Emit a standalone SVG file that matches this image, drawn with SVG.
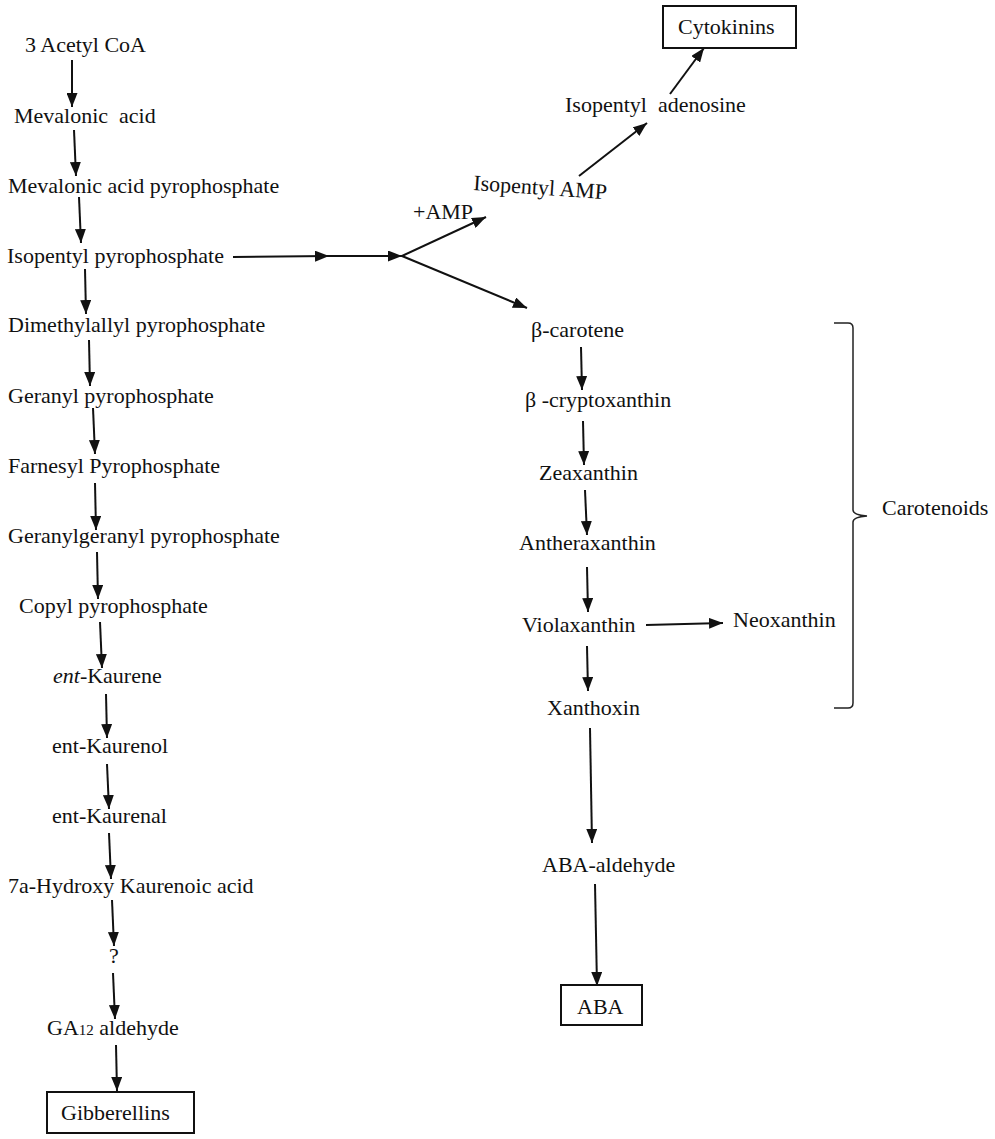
<svg xmlns="http://www.w3.org/2000/svg" width="995" height="1139" viewBox="0 0 995 1139">
<style>
text{font-family:"Liberation Serif","Times New Roman",serif;font-size:22px;fill:#111}
.c line,.c polyline{stroke:#111;stroke-width:2;fill:none;marker-end:url(#ah)}
.box{fill:#fff;stroke:#111;stroke-width:2}
.br{fill:none;stroke:#222;stroke-width:1.5}
</style>
<defs>
<marker id="ah" markerUnits="userSpaceOnUse" markerWidth="14" markerHeight="11" refX="14" refY="5.5" orient="auto">
<path d="M0,0 L14,5.5 L0,11 z" fill="#111"/>
</marker>
</defs>
<rect width="995" height="1139" fill="#fff"/>

<g class="c" id="connectors">
<line x1="72" y1="60" x2="72" y2="107"/>
<line x1="74" y1="130" x2="76" y2="176"/>
<line x1="79" y1="197" x2="81" y2="243"/>
<line x1="85" y1="269" x2="86" y2="314"/>
<line x1="89" y1="340" x2="90" y2="386"/>
<line x1="93" y1="408" x2="95" y2="454"/>
<line x1="95" y1="483" x2="96" y2="530"/>
<line x1="97" y1="552" x2="98" y2="599"/>
<line x1="100" y1="622" x2="102" y2="668"/>
<line x1="106" y1="694" x2="107" y2="738"/>
<line x1="107" y1="764" x2="109" y2="809"/>
<line x1="109" y1="833" x2="111" y2="879"/>
<line x1="112" y1="900" x2="114" y2="946"/>
<line x1="113" y1="973" x2="115" y2="1019"/>
<line x1="116" y1="1045" x2="117" y2="1091"/>
<line x1="233" y1="257" x2="329" y2="256"/>
<line x1="329" y1="256" x2="402" y2="256"/>
<line x1="402" y1="256" x2="486" y2="217"/>
<line x1="402" y1="256" x2="527" y2="308"/>
<line x1="579" y1="176" x2="647" y2="123"/>
<line x1="670" y1="94" x2="704" y2="48"/>
<line x1="581" y1="347" x2="582" y2="390"/>
<line x1="583" y1="421" x2="584" y2="465"/>
<line x1="585" y1="490" x2="587" y2="535"/>
<line x1="587" y1="567" x2="588" y2="612"/>
<line x1="646" y1="625" x2="723" y2="623"/>
<line x1="587" y1="646" x2="588" y2="691"/>
<line x1="590" y1="728" x2="592" y2="843"/>
<line x1="595" y1="884" x2="597" y2="986"/>
</g>

<g id="n-acetylcoa"><text x="25" y="52">3 Acetyl CoA</text></g>
<g id="n-mevalonic"><text x="14" y="123" xml:space="preserve">Mevalonic  acid</text></g>
<g id="n-map"><text x="8" y="193">Mevalonic acid pyrophosphate</text></g>
<g id="n-ipp"><text x="7" y="263">Isopentyl pyrophosphate</text></g>
<g id="n-dmapp"><text x="8" y="332">Dimethylallyl pyrophosphate</text></g>
<g id="n-gpp"><text x="8" y="403">Geranyl pyrophosphate</text></g>
<g id="n-fpp"><text x="8" y="473">Farnesyl Pyrophosphate</text></g>
<g id="n-ggpp"><text x="8" y="543">Geranylgeranyl pyrophosphate</text></g>
<g id="n-cpp"><text x="19" y="613">Copyl pyrophosphate</text></g>
<g id="n-entkaurene"><text x="53" y="683"><tspan font-style="italic">ent</tspan>-Kaurene</text></g>
<g id="n-entkaurenol"><text x="52" y="753">ent-Kaurenol</text></g>
<g id="n-entkaurenal"><text x="52" y="823">ent-Kaurenal</text></g>
<g id="n-hydroxy"><text x="8" y="893">7a-Hydroxy Kaurenoic acid</text></g>
<g id="n-unknown"><text x="109" y="963" font-size="19">?</text></g>
<g id="n-ga12"><text x="47" y="1035">GA<tspan font-size="15">12</tspan> aldehyde</text></g>
<g id="n-gibberellins"><rect class="box" x="47" y="1092" width="147" height="41"/><text x="61" y="1120">Gibberellins</text></g>

<g id="n-amp"><text x="413" y="219">+AMP</text></g>
<g id="n-ipamp"><text x="473" y="190" transform="rotate(4 473 190)">Isopentyl AMP</text></g>
<g id="n-ipadenosine"><text x="565" y="112" xml:space="preserve">Isopentyl  adenosine</text></g>
<g id="n-cytokinins"><rect class="box" x="663" y="6" width="133" height="42"/><text x="678" y="34">Cytokinins</text></g>

<g id="n-bcarotene"><text x="531" y="337">β-carotene</text></g>
<g id="n-bcrypto"><text x="525" y="407">β -cryptoxanthin</text></g>
<g id="n-zeaxanthin"><text x="539" y="480">Zeaxanthin</text></g>
<g id="n-antheraxanthin"><text x="519" y="550">Antheraxanthin</text></g>
<g id="n-violaxanthin"><text x="522" y="632">Violaxanthin</text></g>
<g id="n-neoxanthin"><text x="733" y="627">Neoxanthin</text></g>
<g id="n-xanthoxin"><text x="547" y="715">Xanthoxin</text></g>
<g id="n-abaaldehyde"><text x="542" y="872">ABA-aldehyde</text></g>
<g id="n-aba"><rect class="box" x="561" y="985" width="81" height="40"/><text x="577" y="1014">ABA</text></g>

<g id="carotenoids">
<path class="br" d="M834,323 L848,323 Q853,323 853,328 L853,510 Q853,515 867,516 Q853,517 853,522 L853,703 Q853,708 848,708 L834,708"/>
<text x="882" y="515">Carotenoids</text>
</g>
</svg>
